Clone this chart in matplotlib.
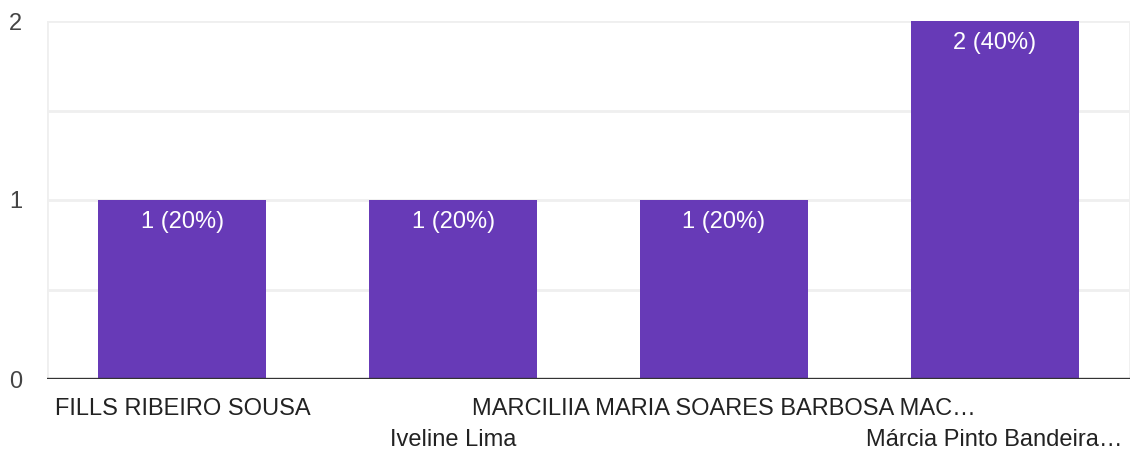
import matplotlib.pyplot as plt

plt.rcParams['font.family'] = ['Liberation Sans', 'DejaVu Sans']

categories = ['FILLS RIBEIRO SOUSA', 'Iveline Lima',
              'MARCILIIA MARIA SOARES BARBOSA MAC…', 'Márcia Pinto Bandeira…']
counts = [1, 1, 1, 2]
labels = ['1 (20%)', '1 (20%)', '1 (20%)', '2 (40%)']

W, H = 1134, 455
fig = plt.figure(figsize=(W / 100, H / 100), dpi=100)
ax = fig.add_axes([47 / W, 76 / H, (1130 - 47) / W, (379 - 21) / H])

x = list(range(len(categories)))
bars = ax.bar(x, counts, width=0.62, color='#673AB7', zorder=3)

ax.set_xlim(-0.5, len(categories) - 0.5)
ax.set_ylim(0, 2)

# light grid, including half steps
for y in [0.5, 1, 1.5, 2]:
    ax.axhline(y, color='#EFEFEF', lw=2, zorder=1)
ax.axhline(0, color='#333333', lw=2.4, zorder=4)
ax.axvline(-0.5, color='#EFEFEF', lw=2, zorder=1)
ax.axvline(len(categories) - 0.5, color='#EFEFEF', lw=2, zorder=1)

for s in ax.spines.values():
    s.set_visible(False)

ax.set_yticks([0, 1, 2])
ax.set_yticklabels(['0', '1', '2'], fontsize=17, color='#444444')
ax.tick_params(axis='y', length=0, pad=18)
ax.set_xticks([])

for b, lab in zip(bars, labels):
    ax.annotate(lab, (b.get_x() + b.get_width() / 2, b.get_height()),
                xytext=(0, -15.5), textcoords='offset points',
                ha='center', va='center', color='white', fontsize=17, zorder=5)

# alternating rows for category labels
for i, c in enumerate(categories):
    off = -21.5 if i % 2 == 0 else -44
    ax.annotate(c, (i, 0), xytext=(0, off), textcoords='offset points',
                ha='center', va='center', fontsize=17, color='#222222')

fig.savefig('out.png', dpi=100)
